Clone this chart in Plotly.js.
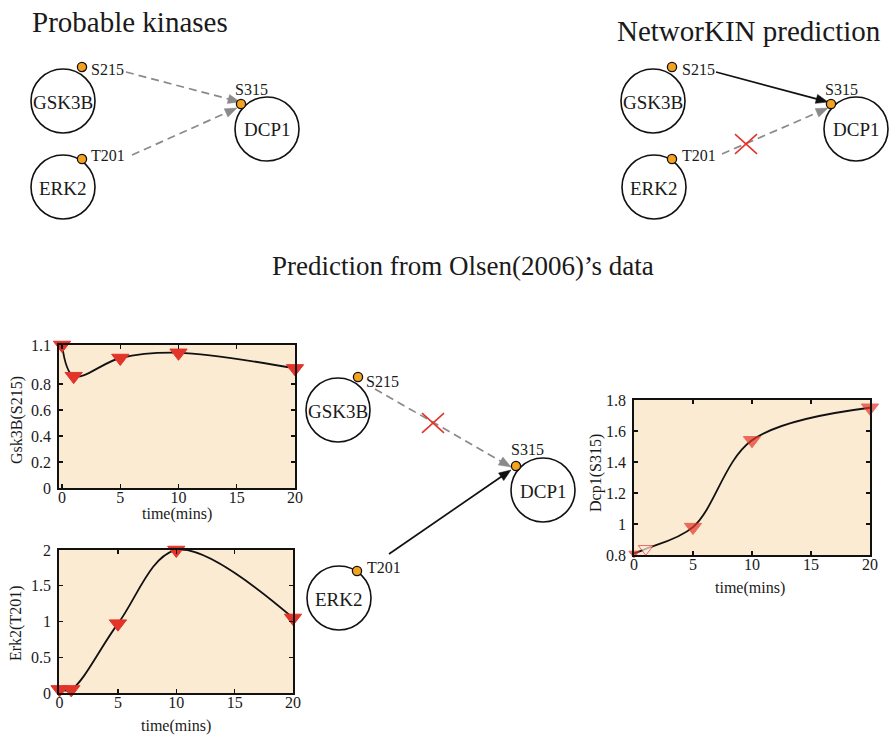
<!DOCTYPE html>
<html>
<head>
<meta charset="utf-8">
<script src="https://cdn.plot.ly/plotly-3.0.1.min.js"></script>
<style>html,body{margin:0;padding:0;background:#fff;}#chart{width:892px;height:735px;}</style>
</head>
<body>
<div id="chart"></div>
<script>
// ---------------- data ----------------
const time = [0, 1, 5, 10, 20];
const gsk3b = [1.1, 0.86, 1.0, 1.04, 0.92];
const erk2 = [0.05, 0.05, 0.97, 2.0, 1.05];
const dcp1 = [0.81, 0.84, 0.98, 1.54, 1.75];
const xTicks = [0, 5, 10, 15, 20];
const gskTicks = [0, 0.2, 0.4, 0.6, 0.8, 1.1];
const erkTicks = [0, 0.5, 1, 1.5, 2];
const dcpTicks = [0.8, 1, 1.2, 1.4, 1.6, 1.8];
const nodeNames = ['GSK3B', 'ERK2', 'DCP1'];
const siteNames = ['S215', 'T201', 'S315'];
const panelTitles = ['Probable kinases', 'NetworKIN prediction', 'Prediction from Olsen(2006)\u2019s data'];
const yTitles = ['Gsk3B(S215)', 'Erk2(T201)', 'Dcp1(S315)'];
const xTitle = 'time(mins)';

// ---------------- style / layout ----------------
const W = 892, H = 735;
const FONT = "'Liberation Serif', 'DejaVu Serif', serif";
const TXT = '#1a1a1a';
const RED = '#e3342a';
const ORANGE = '#f5a21f';
const GREY = '#8a8a8a';
const PEACH = '#fcebd3';
const fx = x => x / W;
const fy = y => 1 - y / H;

const shapes = [];
const annotations = [];

function circle(cx, cy, r, fill, lw) {
  shapes.push({type: 'circle', xref: 'paper', yref: 'paper',
    x0: fx(cx - r), x1: fx(cx + r), y0: fy(cy + r), y1: fy(cy - r),
    line: {color: '#111', width: lw}, fillcolor: fill});
}
function text(t, x, y, size, anchor, angle) {
  annotations.push({text: t, x: fx(x), y: fy(y), xref: 'paper', yref: 'paper',
    showarrow: false, xanchor: anchor || 'center', yanchor: 'middle',
    textangle: angle || 0, font: {family: FONT, size: size, color: TXT}});
}
function arrow(x0, y0, x1, y1, color, dashed) {
  const dx = x1 - x0, dy = y1 - y0, L = Math.hypot(dx, dy);
  const ux = dx / L, uy = dy / L, hl = 12, hw = 4.6;
  const bx = x1 - ux * hl, by = y1 - uy * hl;
  shapes.push({type: 'line', xref: 'paper', yref: 'paper',
    x0: fx(x0), y0: fy(y0), x1: fx(bx + ux * 1), y1: fy(by + uy * 1),
    line: {color: color, width: 1.7, dash: dashed ? '8px,5px' : 'solid'}});
  const p1 = [bx - uy * hw, by + ux * hw], p2 = [bx + uy * hw, by - ux * hw];
  shapes.push({type: 'path', xref: 'paper', yref: 'paper',
    path: `M${fx(x1)},${fy(y1)} L${fx(p1[0])},${fy(p1[1])} L${fx(p2[0])},${fy(p2[1])} Z`,
    fillcolor: color, line: {color: color, width: 0.5}});
}
function cross(cx, cy, s) {
  shapes.push({type: 'line', xref: 'paper', yref: 'paper', x0: fx(cx - s), y0: fy(cy - s * 0.9), x1: fx(cx + s), y1: fy(cy + s * 0.9), line: {color: RED, width: 1.6}});
  shapes.push({type: 'line', xref: 'paper', yref: 'paper', x0: fx(cx - s), y0: fy(cy + s * 0.9), x1: fx(cx + s), y1: fy(cy - s * 0.9), line: {color: RED, width: 1.6}});
}

// diagram geometry (pixels)
const diagrams = [
  {nodes: [[63, 101], [63, 187], [267, 129]], dots: [[82, 67], [82, 159], [241, 104]],
   sites: [[89, 69, 'left'], [89, 155, 'left'], [252, 89, 'center']],
   edges: [[126, 72, 240, 102, GREY, true], [132, 155, 237, 108, GREY, true]], crosses: []},
  {nodes: [[653, 101], [654, 187], [856, 129]], dots: [[672, 67], [672, 159], [831, 104]],
   sites: [[680, 69, 'left'], [680, 155, 'left'], [841, 89, 'center']],
   edges: [[716, 72, 828, 102, '#111', false], [722, 154, 828, 108, GREY, true]], crosses: [[746, 144]]},
  {nodes: [[338, 410], [339, 598], [543, 490]], dots: [[358, 377], [357, 571], [516, 466]],
   sites: [[364, 381, 'left'], [365, 567, 'left'], [527, 449, 'center']],
   edges: [[375, 389, 511, 467, GREY, true], [389, 554, 511, 470, '#111', false]], crosses: [[433, 423]]}
];
diagrams.forEach(d => {
  d.edges.forEach(e => arrow(e[0], e[1], e[2], e[3], e[4], e[5]));
  d.nodes.forEach((n, i) => { circle(n[0], n[1], 32, 'rgba(255,255,255,0)', 1.6); text(nodeNames[i], n[0], n[1] + 1, 19); });
  d.dots.forEach(p => circle(p[0], p[1], 4.6, ORANGE, 1.3));
  d.sites.forEach((s, i) => text(siteNames[i], s[0], s[1], 16, s[2]));
  d.crosses.forEach(c => cross(c[0], c[1], 11));
});

text(panelTitles[0], 30, 22, 29, 'left');
text(panelTitles[1], 615, 31, 29, 'left');
text(panelTitles[2], 463, 266, 27, 'center');

// axis titles
text(yTitles[0], 17, 420, 16, 'center', -90);
text(xTitle, 177, 514, 16);
text(yTitles[1], 16, 623, 16, 'center', -90);
text(xTitle, 176, 726, 16);
text(yTitles[2], 596, 473, 16, 'center', -90);
text(xTitle, 750, 588, 16);

// ---------------- traces ----------------
function series(x, y, xa, ya, sizes, fills) {
  return {x: x, y: y, xaxis: xa, yaxis: ya, type: 'scatter', mode: 'lines+markers',
    line: {shape: 'spline', smoothing: 1, color: '#111', width: 1.8},
    marker: {symbol: 'triangle-down', size: sizes || 15, color: fills || RED, line: {color: RED, width: 1}},
    cliponaxis: false, showlegend: false, hoverinfo: 'x+y'};
}
const traces = [
  series(time, gsk3b, 'x', 'y'),
  series(time, erk2, 'x2', 'y2'),
  series(time, dcp1, 'x3', 'y3', [9, 13, 15, 15, 15], [RED, '#fdeee4', RED, RED, RED])
];

function ax(domain, range, ticks, anchor, standoff) {
  return {domain: domain, range: range, tickvals: ticks, anchor: anchor,
    ticks: 'inside', ticklen: 4, tickwidth: 1.2, tickcolor: '#111', mirror: 'ticks',
    showline: true, linecolor: '#111', linewidth: 1.8, showgrid: false, zeroline: false,
    tickfont: {family: FONT, size: 16, color: TXT}, fixedrange: true, ticklabelstandoff: standoff};
}
const layout = {
  width: W, height: H, margin: {l: 0, r: 0, t: 0, b: 0},
  paper_bgcolor: '#ffffff', plot_bgcolor: PEACH, showlegend: false,
  font: {family: FONT, color: TXT},
  xaxis: ax([fx(59), fx(295)], [-0.26, 20], xTicks, 'y', -6),
  yaxis: ax([fy(488), fy(345)], [0, 1.1], gskTicks, 'x', 3),
  xaxis2: ax([fx(59), fx(293)], [-0.05, 20], xTicks, 'y2', -6),
  yaxis2: ax([fy(693), fy(550)], [0, 2], erkTicks, 'x2', 3),
  xaxis3: ax([fx(634), fx(870)], [0, 20], xTicks, 'y3', -6),
  yaxis3: ax([fy(555), fy(400)], [0.8, 1.8], dcpTicks, 'x3', 3),
  shapes: shapes, annotations: annotations
};
Plotly.newPlot('chart', traces, layout, {displayModeBar: false, staticPlot: true});
</script>
</body>
</html>
